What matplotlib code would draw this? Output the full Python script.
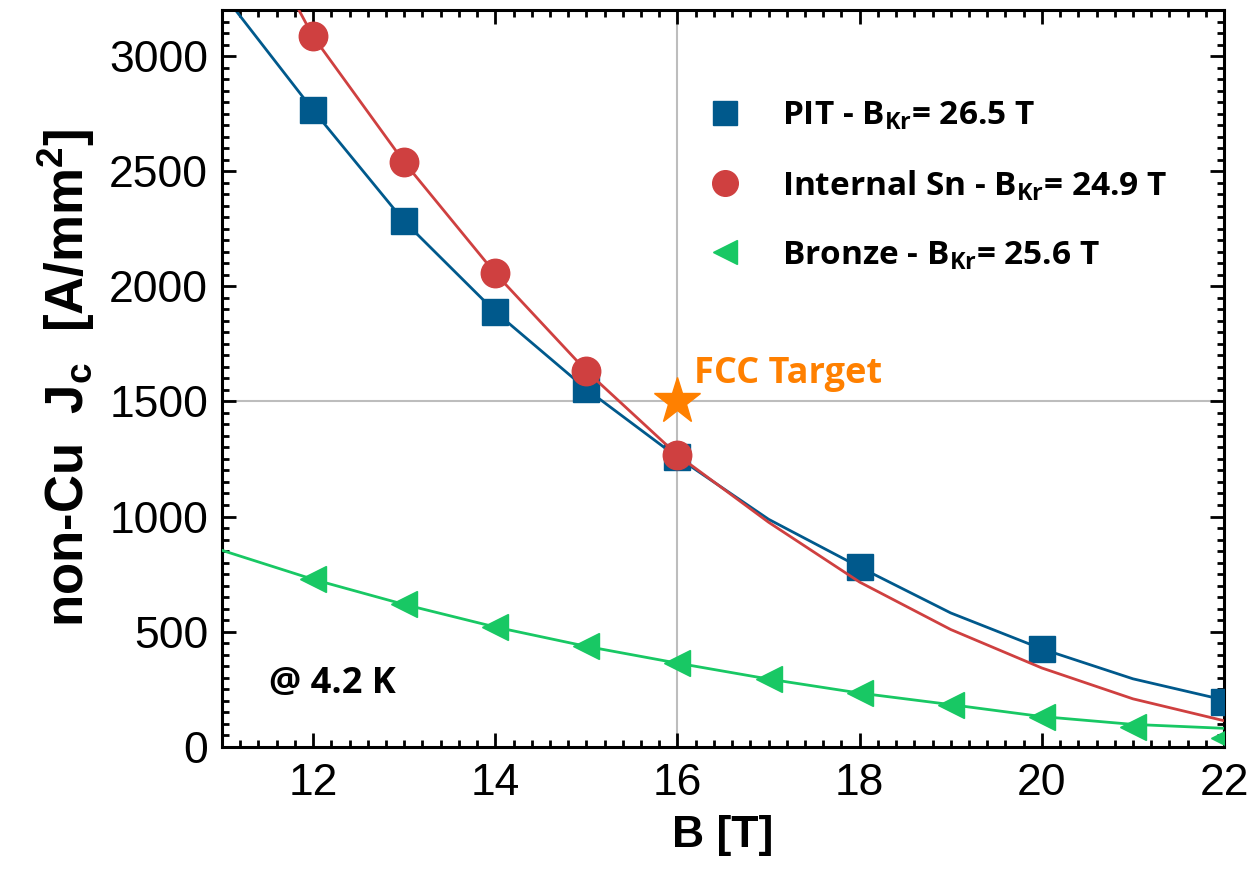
import matplotlib
matplotlib.use('Agg')
import matplotlib.pyplot as plt
from matplotlib.ticker import MultipleLocator

# fitted curves (integer fields)
b_fit = [11, 12, 13, 14, 15, 16, 17, 18, 19, 20, 21, 22]
pit_fit = [3275, 2765, 2282, 1889, 1553, 1257, 988, 780, 581, 425, 295, 203]
insn_fit = [3820, 3085, 2539, 2056, 1632, 1267, 975, 715, 509, 342, 208, 113]
bronze_fit = [853, 727, 618, 520, 436, 363, 294, 233, 183, 131, 97, 80]

# measured points
pit_b = [12, 13, 14, 15, 16, 18, 20, 22]
pit_jc = [2765, 2282, 1889, 1555, 1257, 780, 425, 196]
insn_b = [12, 13, 14, 15, 16]
insn_jc = [3085, 2539, 2056, 1632, 1267]
bronze_b = [12, 13, 14, 15, 16, 17, 18, 19, 20, 21, 22]
bronze_jc = [727, 618, 520, 436, 363, 294, 233, 180, 128, 85, 40]

target_b = 16
target_jc = 1500

c_pit = '#00598C'
c_insn = '#CF4040'
c_bronze = '#18C864'
c_fcc = '#FF8000'
tfont = 'Open Sans'

fig = plt.figure(figsize=(12.53, 8.69), dpi=100)
ax = fig.add_axes([0.1772, 0.1407, 0.7997, 0.8478])

ax.axvline(target_b, color='#BDBDBD', lw=1.5, zorder=1)
ax.axhline(target_jc, color='#BDBDBD', lw=1.5, zorder=1)

ax.plot(b_fit, pit_fit, color=c_pit, lw=2, zorder=2)
ax.plot(pit_b, pit_jc, 's', color=c_pit, ms=18.5, zorder=3,
        label=r'PIT - B$_{\mathdefault{Kr}}$= 26.5 T')
ax.plot(b_fit, insn_fit, color=c_insn, lw=2, zorder=4)
ax.plot(insn_b, insn_jc, 'o', color=c_insn, ms=20.5, zorder=5,
        label=r'Internal Sn - B$_{\mathdefault{Kr}}$= 24.9 T')
ax.plot(b_fit, bronze_fit, color=c_bronze, lw=2, zorder=6)
ax.plot(bronze_b, bronze_jc, '<', color=c_bronze, ms=19, zorder=7,
        label=r'Bronze - B$_{\mathdefault{Kr}}$= 25.6 T')

ax.plot(target_b, target_jc, '*', color=c_fcc, ms=35, zorder=8, clip_on=False)
ax.text(16.18, 1620, 'FCC Target', color=c_fcc, fontsize=26, fontweight='bold',
        family=tfont, va='center', ha='left')
ax.text(0.047, 0.085, '@ 4.2 K', transform=ax.transAxes, fontsize=26,
        fontweight='bold', family=tfont, va='center', ha='left')

ax.set_xlim(11, 22)
ax.set_ylim(0, 3200)
ax.xaxis.set_major_locator(MultipleLocator(2))
ax.xaxis.set_minor_locator(MultipleLocator(0.2))
ax.yaxis.set_major_locator(MultipleLocator(500))
ax.yaxis.set_minor_locator(MultipleLocator(50))
ax.tick_params(which='both', direction='in', top=True, right=True, width=2)
ax.tick_params(which='major', length=10, labelsize=32, pad=12)
ax.tick_params(which='minor', length=5)
ax.tick_params(axis='y', pad=10)
for lab in ax.get_xticklabels() + ax.get_yticklabels():
    lab.set_family('Liberation Sans')
for s in ax.spines.values():
    s.set_linewidth(2.2)

ax.set_xlabel('B [T]', fontsize=32, fontweight='bold', family='Liberation Sans')
ax.set_ylabel(r'non-Cu  J$_{\mathdefault{c}}$  [A/mm$^{\mathdefault{2}}$]',
              fontsize=38, fontweight='bold', family='Liberation Sans')
ax.xaxis.set_label_coords(0.5, -0.093)
ax.yaxis.set_label_coords(-0.125, 0.5)

ax.legend(loc='upper left', bbox_to_anchor=(0.4725, 0.897), frameon=False,
          prop={'family': tfont, 'weight': 'bold', 'size': 24},
          markerscale=0.9, handlelength=1.0, handletextpad=1.19,
          labelspacing=1.08, borderaxespad=0)

fig.savefig('out.png', dpi=100)
